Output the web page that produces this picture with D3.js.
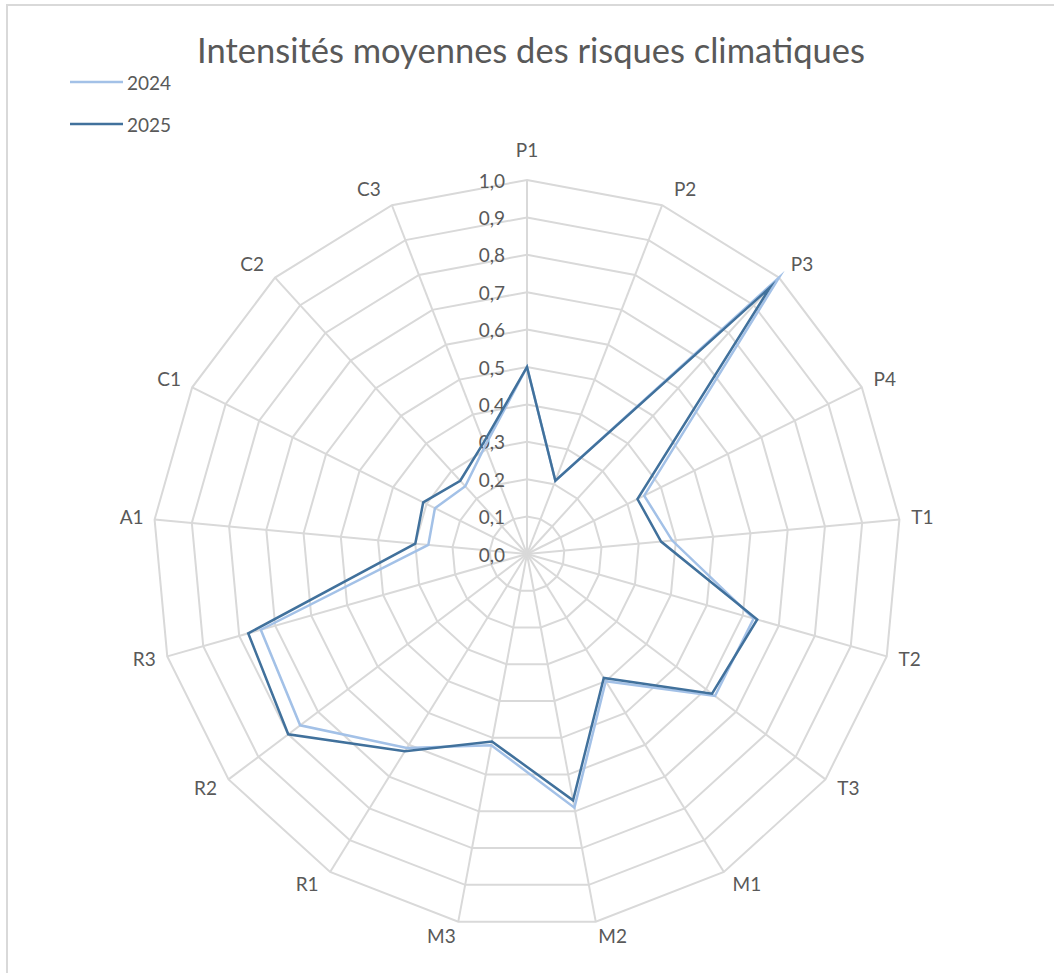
<!DOCTYPE html>
<html>
<head>
<meta charset="utf-8">
<script src="https://cdn.jsdelivr.net/npm/d3@7"></script>
<style>
  body { margin: 0; background: #fff; }
  text { font-family: Lato, "Open Sans", sans-serif; fill: #595959; }
</style>
</head>
<body>
<svg id="radar" width="1054" height="973"></svg>
<script>
// categories and values
var categories = ["P1","P2","P3","P4","T1","T2","T3","M1","M2","M3","R1","R2","R3","A1","C1","C2","C3"];
var values2024 = [0.50, 0.21, 1.00, 0.35, 0.39, 0.63, 0.63, 0.40, 0.69, 0.52, 0.61, 0.76, 0.74, 0.265, 0.275, 0.245, 0.31];
var values2025 = [0.50, 0.21, 0.965, 0.33, 0.36, 0.64, 0.62, 0.39, 0.67, 0.51, 0.62, 0.80, 0.775, 0.30, 0.31, 0.265, 0.32];
var seriesNames = ["2024","2025"];
var tickValues = [0,0.1,0.2,0.3,0.4,0.5,0.6,0.7,0.8,0.9,1.0];

var width = 1054
  , height = 973
  , cx = 527
  , cy = 554
  , radius = 374
  , colors = ["#a3c1e7","#41719c"];

var svg = d3.select("#radar");

// chart frame (cropped at right and bottom)
svg.append("rect")
    .attr("x",7).attr("y",5)
    .attr("width",width).attr("height",height)
    .attr("fill","none")
    .attr("stroke","#d9d9d9")
    .attr("stroke-width",2);

var r = d3.scaleLinear().domain([0,1]).range([0,radius]);
var angle = d3.scaleLinear().domain([0,categories.length]).range([0,2*Math.PI]);
var fmt = d3.formatLocale({decimal:",", thousands:" ", grouping:[3], currency:["","€"]}).format(".1f");

var g = svg.append("g").attr("transform","translate("+cx+","+cy+")");

// rings
var ring = d3.lineRadial()
    .angle(function(d,i){ return angle(i); })
    .curve(d3.curveLinearClosed);

g.append("g").attr("class","rings")
  .selectAll("path")
  .data(tickValues.slice(1))
  .enter().append("path")
    .attr("d",function(t){ return ring.radius(r(t))(categories); })
    .attr("fill","none")
    .attr("stroke","#d9d9d9")
    .attr("stroke-width",2);

// spokes
g.append("g").attr("class","spokes")
  .selectAll("line")
  .data(categories)
  .enter().append("line")
    .attr("x1",0).attr("y1",0)
    .attr("x2",function(d,i){ return d3.pointRadial(angle(i),r(1))[0]; })
    .attr("y2",function(d,i){ return d3.pointRadial(angle(i),r(1))[1]; })
    .attr("stroke","#d9d9d9")
    .attr("stroke-width",2);

// category labels: box sits beside the spoke end, like excel does it
function labelPos(i){
  var a = angle(i)
    , p = d3.pointRadial(a,r(1))
    , s = Math.sin(a)
    , c = Math.cos(a)
    , dx = 23 * Math.max(-1, Math.min(1, 4*s))
    , dy = -16*c - 2 - (i == 0 ? 13 : 0);
  return [p[0]+dx, p[1]+dy];
}

g.append("g").attr("class","cats")
  .selectAll("text")
  .data(categories)
  .enter().append("text")
    .attr("x",function(d,i){ return labelPos(i)[0]; })
    .attr("y",function(d,i){ return labelPos(i)[1]; })
    .attr("text-anchor","middle")
    .attr("dominant-baseline","central")
    .style("font-size","19px")
    .text(function(d){ return d; });

// tick labels along P1 axis
g.append("g").attr("class","ticks")
  .selectAll("text")
  .data(tickValues)
  .enter().append("text")
    .attr("x",-22)
    .attr("y",function(t){ return -r(t); })
    .attr("text-anchor","end")
    .attr("dominant-baseline","central")
    .style("font-size","19px")
    .text(function(t){ return fmt(t); });

// series
var line = d3.lineRadial()
    .angle(function(d,i){ return angle(i); })
    .radius(function(d){ return r(d); })
    .curve(d3.curveLinearClosed);

g.append("g").attr("class","series")
  .selectAll("path")
  .data([values2024,values2025])
  .enter().append("path")
    .attr("d",line)
    .attr("fill","none")
    .attr("stroke",function(d,i){ return colors[i]; })
    .attr("stroke-width",2.5)
    .attr("stroke-linejoin","miter")
    .attr("stroke-miterlimit",10);

// title
svg.append("text")
    .attr("x",531).attr("y",63)
    .attr("text-anchor","middle")
    .style("font-size","34.5px")
    .text("Intensités moyennes des risques climatiques");

// legend
var legend = svg.append("g").attr("class","legend")
  .selectAll("g")
  .data(seriesNames)
  .enter().append("g")
    .attr("transform",function(d,i){ return "translate(70,"+(82+i*42)+")"; });

legend.append("line")
    .attr("x1",0).attr("x2",53)
    .attr("stroke",function(d,i){ return colors[i]; })
    .attr("stroke-width",2.5);

legend.append("text")
    .attr("x",57)
    .attr("dominant-baseline","central")
    .style("font-size","19px")
    .text(function(d){ return d; });
</script>
</body>
</html>
